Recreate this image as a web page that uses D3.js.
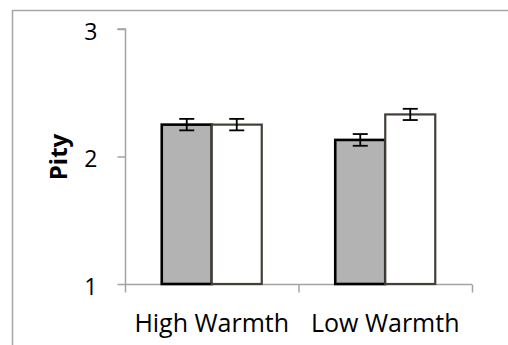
<!DOCTYPE html>
<html>
<head>
<meta charset="utf-8">
<script src="https://cdn.jsdelivr.net/npm/d3@7"></script>
<style>
  html, body { margin: 0; padding: 0; background: #fff; }
  svg { display: block; }
</style>
</head>
<body>
<svg id="chart" width="508" height="345"></svg>
<script>
// chart data
const categories = ['High Warmth', 'Low Warmth'];
const seriesNames = ['grey', 'white'];
const greyValues = [2.25, 2.13];
const whiteValues = [2.25, 2.33];
const greyErrors = [0.045, 0.046];
const whiteErrors = [0.045, 0.044];
const yTicks = [1, 2, 3];

const FONT = 'Open Sans, sans-serif';
const AXIS_COL = '#a3a3a3';

const rows = categories.map((c, i) => ({
  cat: c,
  bars: [
    { key: 'grey', v: greyValues[i], err: greyErrors[i] },
    { key: 'white', v: whiteValues[i], err: whiteErrors[i] },
  ],
}));

const svg = d3.select('#chart');

// outer chart frame (right/bottom edges fall outside the picture)
svg.append('rect')
  .attr('x', 12.5).attr('y', 10.5).attr('width', 520).attr('height', 360)
  .attr('fill', 'none').attr('stroke', '#a6a6a6').attr('stroke-width', 1.5);

const x0 = d3.scaleBand().domain(categories).range([125, 472]);
const x1 = d3.scaleBand().domain(seriesNames).range([0, x0.bandwidth()]).paddingOuter(0.735);
const y = d3.scaleLinear().domain([1, 3]).range([284, 29]);

// y axis
const yAxis = svg.append('g').attr('transform', 'translate(125.5,0)')
  .call(d3.axisLeft(y).tickValues(yTicks).tickSize(8).tickPadding(20).tickFormat(d3.format('d')));
yAxis.selectAll('path, line').attr('stroke', AXIS_COL).attr('stroke-width', 1.5);
yAxis.select('.domain').attr('d', `M-8,${y(3)}H0V${y(1)}`);
yAxis.selectAll('text')
  .attr('font-family', FONT).attr('font-size', 23).attr('fill', '#000').attr('dy', '0.45em');

// x axis
const xAxisG = svg.append('g').attr('transform', `translate(0,${y(1) + 0.5})`);
xAxisG.append('line').attr('x1', x0.range()[0]).attr('x2', x0.range()[1])
  .attr('stroke', AXIS_COL).attr('stroke-width', 1.5);
const bounds = categories.map(c => x0(c)).concat([x0.range()[1]]);
xAxisG.selectAll('line.tk').data(bounds).join('line').attr('class', 'tk')
  .attr('x1', d => d + 0.5).attr('x2', d => d + 0.5).attr('y1', 0).attr('y2', 8)
  .attr('stroke', AXIS_COL).attr('stroke-width', 1.5);
xAxisG.selectAll('text').data(categories).join('text')
  .attr('x', d => x0(d) + x0.bandwidth() / 2).attr('y', 47)
  .attr('text-anchor', 'middle')
  .attr('font-family', FONT).attr('font-size', 25).attr('fill', '#000')
  .text(d => d);

// y title
svg.append('text')
  .attr('transform', `translate(67,157) rotate(-90)`)
  .attr('text-anchor', 'middle')
  .attr('font-family', FONT).attr('font-size', 24).attr('font-weight', 700)
  .text('Pity');

// bars
const groups = svg.append('g').selectAll('g.grp').data(rows).join('g')
  .attr('class', 'grp').attr('transform', d => `translate(${x0(d.cat)},0)`);

groups.selectAll('rect').data(d => d.bars).join('rect')
  .attr('x', d => x1(d.key)).attr('width', x1.bandwidth())
  .attr('y', d => y(d.v)).attr('height', d => y(1) - y(d.v))
  .attr('fill', d => d.key === 'grey' ? '#b3b3b3' : '#ffffff')
  .attr('stroke', d => d.key === 'grey' ? '#000' : '#433e37')
  .attr('stroke-width', d => d.key === 'grey' ? 2.6 : 2.2);

// error bars
const eb = groups.selectAll('g.eb').data(d => d.bars).join('g').attr('class', 'eb')
  .attr('transform', d => `translate(${x1(d.key) + x1.bandwidth() / 2},0)`);
eb.append('line').attr('y1', d => y(d.v + d.err)).attr('y2', d => y(d.v - d.err))
  .attr('stroke', '#000').attr('stroke-width', 1.8);
eb.selectAll('line.cap').data(d => [d.v + d.err, d.v - d.err]).join('line').attr('class', 'cap')
  .attr('x1', -7.5).attr('x2', 7.5).attr('y1', d => y(d)).attr('y2', d => y(d))
  .attr('stroke', '#000').attr('stroke-width', 1.8);
</script>
</body>
</html>
